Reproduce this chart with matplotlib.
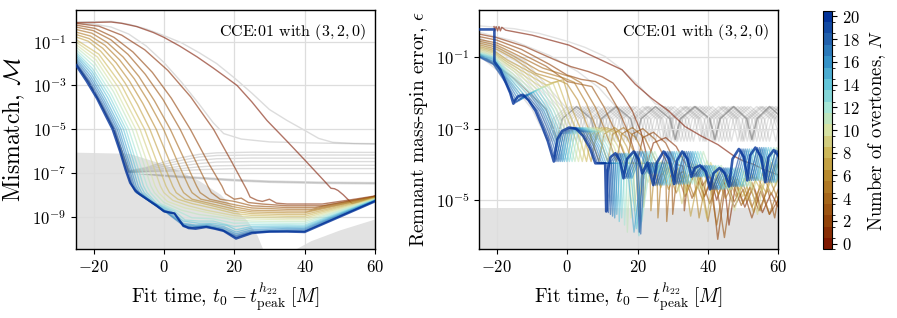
import numpy as np
import matplotlib
matplotlib.use("Agg")
import matplotlib.pyplot as plt
from matplotlib.colors import LinearSegmentedColormap, BoundaryNorm
from matplotlib.cm import ScalarMappable

plt.rcParams.update({
    "font.family": "serif",
    "font.serif": ["cmr10"],
    "mathtext.fontset": "cm",
    "axes.formatter.use_mathtext": True,
    "axes.unicode_minus": True,
})

# roma-like colour scale for overtone number
ROMA = ["#7e1800", "#924309", "#a5661a", "#b88a2e", "#cdb85a", "#d6e2a4",
        "#a6e6d6", "#63c6da", "#3592c8", "#2160ac", "#033399"]
cmap = LinearSegmentedColormap.from_list("roma", ROMA)

OVERTONES = list(range(21))

# ---------------- left panel: mismatch (t, log10 M) ----------------
MISMATCH = [
    [(-25,-0.13),(-20,-0.12),(-15,-0.1),(-12,-0.16),(-7.7,-0.31),(-3,-0.58),(0,-0.8),(4.5,-1.2),(9.4,-1.69),(14,-2.2),(17,-2.55),(20.8,-3.0),(25,-3.75),(29.3,-4.6),(35,-5.55),(40,-6.4),(45.5,-7.35),(47.5,-7.7),(48.5,-7.72),(49.5,-7.8),(51,-8.0),(53.5,-8.4),(56,-8.3),(60,-8.05)],
    [(-25,-0.16),(-18.5,-0.29),(-12,-0.7),(-5.45,-1.37),(1.1,-2.31),(7.6,-3.52),(14.1,-5.0),(19.3,-6.5),(23.5,-7.75),(24.5,-8.1),(26.5,-8.25),(28,-8.3),(30,-8.2),(32,-8.38),(35,-8.42),(45,-8.42),(50,-8.3),(55,-8.18),(60,-8.05)],
    [(-25,-0.24),(-19.6,-0.39),(-14.2,-0.8),(-8.8,-1.47),(-3.3,-2.4),(2.1,-3.58),(7.5,-5.0),(12.5,-6.5),(16.5,-7.6),(17.5,-7.95),(20,-8.2),(22,-8.15),(24,-8.35),(28,-8.42),(35,-8.5),(45,-8.5),(60,-8.07)],
    [(-25,-0.33),(-20.1,-0.49),(-15.1,-0.91),(-10.2,-1.58),(-5.3,-2.49),(-0.3,-3.63),(4.6,-5.0),(9,-6.45),(12.5,-7.6),(13.5,-7.9),(16,-8.2),(20,-8.3),(25,-8.5),(35,-8.58),(43,-8.58),(60,-8.08)],
    [(-25,-0.44),(-20.5,-0.61),(-16.1,-1.04),(-11.6,-1.7),(-7.1,-2.59),(-2.7,-3.7),(1.8,-5.0),(6,-6.45),(9.3,-7.6),(10.3,-7.9),(13,-8.2),(20,-8.45),(25,-8.6),(35,-8.66),(42,-8.66),(60,-8.1)],
    [(-25,-0.56),(-20.9,-0.74),(-16.7,-1.17),(-12.6,-1.83),(-8.4,-2.7),(-4.3,-3.76),(-0.1,-5.0),(3.9,-6.5),(7,-7.6),(8,-7.9),(10.5,-8.2),(15,-8.35),(20,-8.55),(25,-8.7),(35,-8.74),(41,-8.74),(60,-8.11)],
    [(-25,-0.67),(-21.2,-0.86),(-17.4,-1.3),(-13.6,-1.96),(-9.8,-2.8),(-6,-3.82),(-2.2,-5.0),(1.7,-6.5),(4.6,-7.6),(5.6,-7.9),(8,-8.2),(12,-8.35),(20,-8.65),(25,-8.78),(35,-8.82),(40,-8.82),(60,-8.12)],
    [(-25,-0.78),(-21.5,-0.98),(-18,-1.43),(-14.5,-2.08),(-11,-2.9),(-7.5,-3.87),(-4,-5.0),(-0.3,-6.5),(2.5,-7.6),(3.5,-7.9),(6,-8.2),(10,-8.35),(15,-8.55),(20,-8.75),(25,-8.86),(35,-8.9),(40,-8.9),(60,-8.14)],
    [(-25,-0.9),(-18.5,-1.57),(-12,-3.0),(-5.5,-5.0),(-2,-6.5),(0.6,-7.6),(1.6,-7.9),(4,-8.2),(8,-8.4),(15,-8.65),(20,-8.85),(25,-8.94),(35,-8.98),(40,-8.98),(60,-8.15)],
    [(-25,-1.01),(-18.9,-1.7),(-12.9,-3.1),(-6.8,-5.0),(-3.4,-6.5),(-1,-7.6),(0,-7.9),(2.5,-8.25),(7,-8.5),(12,-8.7),(20,-8.95),(25,-9.02),(35,-9.06),(40,-9.06),(60,-8.17)],
    [(-25,-1.13),(-19.3,-1.83),(-13.7,-3.19),(-8,-5.0),(-4.8,-6.5),(-2.5,-7.6),(-1.5,-7.9),(1,-8.3),(6,-8.6),(12,-8.8),(20,-9.05),(25,-9.1),(35,-9.14),(40,-9.14),(60,-8.18)],
    [(-25,-1.24),(-19.7,-1.96),(-14.3,-3.29),(-9,-5.0),(-5.9,-6.5),(-3.7,-7.6),(-2.7,-7.9),(0,-8.35),(5,-8.7),(10,-8.9),(15,-9.0),(20,-9.15),(25,-9.2),(35,-9.22),(40,-9.22),(60,-8.2)],
    [(-25,-1.36),(-20,-2.1),(-15,-3.38),(-10,-5.0),(-7,-6.5),(-4.8,-7.6),(-3.8,-7.9),(-1,-8.4),(4,-8.75),(8,-9.05),(14,-9.1),(20,-9.3),(25,-9.28),(35,-9.3),(40,-9.3),(60,-8.21)],
    [(-25,-1.47),(-20.3,-2.23),(-15.5,-3.47),(-10.8,-5.0),(-7.9,-6.5),(-5.8,-7.6),(-4.8,-7.9),(-2,-8.4),(3,-8.75),(6,-9.15),(10,-9.2),(14,-9.2),(20,-9.45),(25,-9.37),(35,-9.37),(40,-9.38),(60,-8.23)],
    [(-25,-1.56),(-20.5,-2.34),(-16,-3.55),(-11.5,-5.0),(-8.6,-6.5),(-6.6,-7.6),(-5.6,-7.9),(-2.5,-8.4),(2,-8.75),(5.5,-9.2),(10,-9.3),(14,-9.3),(18,-9.4),(20.5,-9.6),(25,-9.45),(35,-9.43),(40,-9.44),(60,-8.24)],
    [(-25,-1.65),(-20.7,-2.45),(-16.5,-3.63),(-12.2,-5.0),(-9.3,-6.5),(-7.3,-7.6),(-6.3,-7.9),(-3,-8.4),(1,-8.75),(5.5,-9.3),(9,-9.38),(13,-9.35),(17,-9.45),(20.5,-9.7),(25,-9.52),(35,-9.49),(40,-9.5),(60,-8.25)],
    [(-25,-1.75),(-20.9,-2.56),(-16.9,-3.69),(-12.8,-5.0),(-9.9,-6.5),(-7.9,-7.6),(-6.9,-7.9),(-3.5,-8.35),(0.5,-8.75),(5.5,-9.35),(9,-9.43),(12.5,-9.4),(17,-9.52),(20.5,-9.78),(25,-9.6),(35,-9.54),(40,-9.55),(60,-8.26)],
    [(-25,-1.84),(-21.1,-2.66),(-17.2,-3.76),(-13.3,-5.0),(-10.4,-6.5),(-8.4,-7.6),(-7.4,-7.9),(-4,-8.3),(0.3,-8.76),(5.5,-9.4),(8,-9.47),(12.3,-9.43),(16.5,-9.56),(20.5,-9.85),(25,-9.66),(35,-9.6),(40,-9.6),(60,-8.27)],
    [(-25,-1.93),(-21.3,-2.75),(-17.5,-3.82),(-13.8,-5.0),(-10.9,-6.5),(-8.8,-7.6),(-7.8,-7.9),(-4.5,-8.25),(0.2,-8.77),(3,-8.85),(5.5,-9.42),(8,-9.5),(12.2,-9.45),(16.5,-9.6),(20.5,-9.9),(25,-9.7),(35,-9.64),(40,-9.65),(60,-8.28)],
    [(-25,-2.0),(-21.4,-2.83),(-17.8,-3.87),(-14.2,-5.0),(-11.4,-6.5),(-9.2,-7.55),(-8.2,-7.85),(-5,-8.2),(0.1,-8.77),(3,-8.85),(5.5,-9.45),(7.5,-9.52),(12.1,-9.46),(16.6,-9.62),(20.5,-9.95),(25,-9.72),(35,-9.67),(40,-9.68),(60,-8.29)],
    [(-25,-2.07),(-22,-2.8),(-19,-3.6),(-16.5,-4.4),(-14.6,-5.0),(-12.5,-6.0),(-10.8,-6.9),(-9.6,-7.45),(-8.2,-7.78),(-7,-7.95),(-5,-8.17),(-2.2,-8.47),(0,-8.75),(3,-8.85),(5.5,-9.4),(7,-9.52),(9,-9.55),(12,-9.47),(14.5,-9.55),(17,-9.65),(20.5,-10.0),(25,-9.75),(30,-9.68),(35,-9.68),(40,-9.7),(45,-9.35),(50,-9.0),(55,-8.65),(60,-8.3)],
]

# grey reference curves, left panel
GREY_LEFT = [
    [(-25,-0.1),(-15,-0.07),(-10,-0.2),(-5,-0.42),(0,-0.72),(5,-1.05),(10,-1.5),(15,-2.0),(20,-2.65),(25,-3.35),(30,-4.1),(35,-4.6),(40,-5.05),(44,-5.42),(48,-5.6),(54,-5.65),(60,-5.66)],
    [(-25,-0.15),(-20,-0.19),(-15,-0.33),(-10,-0.65),(-5,-1.2),(0,-1.95),(5,-2.85),(10,-3.85),(14,-4.7),(17,-5.2),(22,-5.45),(30,-5.58),(40,-5.62),(60,-5.68)],
    [(-25,-2.0),(-21.4,-2.83),(-17.8,-3.87),(-14.2,-5.0),(-12,-6.0),(-10,-6.9),(-5,-6.75),(0,-6.5),(5,-6.3),(10,-6.15),(15,-6.08),(25,-6.05),(60,-6.06)],
    [(-25,-2.0),(-21.4,-2.83),(-17.8,-3.87),(-14.2,-5.0),(-12,-6.0),(-10,-6.92),(-5,-6.8),(0,-6.6),(5,-6.42),(10,-6.27),(15,-6.2),(25,-6.18),(60,-6.18)],
    [(-25,-2.0),(-21.4,-2.83),(-17.8,-3.87),(-14.2,-5.0),(-12,-6.0),(-10,-6.93),(-5,-6.85),(0,-6.7),(5,-6.55),(10,-6.42),(15,-6.35),(25,-6.32),(60,-6.33)],
    [(-25,-2.0),(-21.4,-2.83),(-17.8,-3.87),(-14.2,-5.0),(-12,-6.0),(-10,-6.94),(-5,-6.9),(0,-6.8),(5,-6.68),(10,-6.57),(15,-6.5),(25,-6.48),(60,-6.48)],
    [(-25,-2.0),(-21.4,-2.83),(-17.8,-3.87),(-14.2,-5.0),(-12,-6.0),(-10,-6.95),(-5,-6.93),(0,-6.88),(5,-6.8),(10,-6.72),(15,-6.67),(25,-6.65),(60,-6.65)],
    [(-25,-2.0),(-21.4,-2.83),(-17.8,-3.87),(-14.2,-5.0),(-12,-6.0),(-10,-6.96),(0,-6.93),(10,-6.85),(20,-6.8),(60,-6.8)],
    [(-25,-2.0),(-21.4,-2.83),(-17.8,-3.87),(-14.2,-5.0),(-12,-6.0),(-10,-6.97),(-5,-7.05),(0,-7.12),(5,-7.18),(10,-7.23),(15,-7.28),(20,-7.33),(30,-7.4),(45,-7.45),(60,-7.47)],
    [(-25,-2.0),(-21.4,-2.83),(-17.8,-3.87),(-14.2,-5.0),(-12,-6.0),(-10,-6.98),(-5,-7.07),(0,-7.15),(5,-7.21),(10,-7.26),(15,-7.31),(20,-7.36),(30,-7.43),(45,-7.48),(60,-7.5)],
    [(-25,-2.0),(-21.4,-2.83),(-17.8,-3.87),(-14.2,-5.0),(-12,-6.0),(-10,-6.99),(-5,-7.03),(0,-7.1),(5,-7.15),(10,-7.2),(15,-7.25),(20,-7.3),(30,-7.37),(45,-7.42),(60,-7.44)],
]

# shaded noise floor, left panel
FLOOR_LEFT_T = [-25, -10, -5, 0, 5, 10, 16, 20, 23.6, 26.5, 28.4, 36, 41.7, 50, 60]
FLOOR_LEFT_V = [-6.05, -6.1, -6.35, -6.6, -6.95, -7.35, -7.97, -8.62, -9.16, -9.85, -10.6, -10.6, -10.1, -9.6, -9.1]

# ---------------- right panel: remnant error (t, log10 eps) ----------------
EPSILON = [
    [(-20.8,-0.14),(-20.6,-0.26),(-20.2,-0.14),(-19.8,-0.26),(-19.4,-0.14),(-19.0,-0.26),(-18.6,-0.16),(-17.5,-0.24),(-10,-0.38),(0.5,-0.66),(8,-1.0),(15.6,-1.35),(19.3,-1.75),(24,-2.15),(28.8,-2.5),(33.5,-2.94),(38,-3.2),(42.9,-3.45),(47.6,-3.78),(50,-3.9),(53,-4.0),(56,-4.15),(60,-4.3)],
    [(-25,-0.35),(-20,-0.45),(-12,-0.7),(-4,-1.05),(1,-1.26),(6,-1.4),(10,-1.55),(13,-1.72),(16,-2.1),(18.5,-2.5),(21,-3.1),(23,-3.92),(24.5,-3.4),(28,-3.25),(31,-3.5),(34,-4.05),(36,-4.1),(38.5,-4.6),(40.5,-4.3),(42.5,-5.0),(44.5,-4.4),(46,-5.7),(48,-4.5),(50.5,-5.2),(53,-4.6),(55.5,-5.35),(58,-4.8),(60,-5.2)],
    [(-25,-0.42),(-20,-0.52),(-13,-0.78),(-5,-1.2),(0,-1.5),(4,-1.62),(8,-1.68),(11,-1.85),(14.5,-2.45),(17.5,-3.15),(20,-3.92),(21.5,-3.25),(24.5,-3.1),(28,-3.4),(31,-4.0),(33,-4.05),(33.3,-5.3),(34.5,-4.3),(36.5,-4.25),(39,-4.9),(41,-4.45),(42.8,-6.1),(45,-4.55),(47.5,-5.2),(50,-4.7),(52.5,-5.5),(55,-4.75),(57.5,-5.4),(60,-5.0)],
    [(-25,-0.5),(-20,-0.6),(-14,-0.85),(-6,-1.25),(0,-1.68),(3.5,-1.75),(7,-1.82),(10.5,-2.4),(14,-3.15),(17,-3.92),(18.5,-3.15),(21.5,-3.0),(25,-3.3),(28.5,-3.97),(29.7,-3.97),(30,-5.4),(31.2,-4.3),(33,-4.2),(35.5,-4.95),(38,-4.35),(40.5,-5.1),(42.5,-4.6),(44.7,-6.05),(47,-4.5),(49.5,-5.15),(52,-4.65),(54.5,-5.3),(57,-4.7),(59,-5.5),(60,-4.9)],
    [(-25,-0.55),(-20,-0.66),(-15,-0.9),(-7,-1.3),(1,-1.55),(4,-1.72),(8,-2.4),(11,-3.1),(14,-3.92),(15.5,-3.15),(18.5,-2.97),(22,-3.25),(25.5,-3.97),(28,-3.97),(28.3,-5.6),(29.3,-4.35),(31,-4.15),(33.5,-4.9),(36,-4.3),(38.5,-5.0),(40.5,-4.5),(42.5,-5.7),(45,-4.4),(47.5,-5.05),(50,-4.55),(52.5,-5.2),(55,-4.6),(57.5,-5.4),(60,-4.7)],
    [(-25,-0.6),(-20,-0.72),(-15,-0.98),(-8,-1.38),(-1,-1.58),(2,-1.7),(5.5,-2.3),(8.5,-3.05),(11.5,-3.92),(13,-3.15),(16,-2.97),(19.5,-3.25),(23,-3.97),(25.5,-3.97),(25.8,-5.5),(26.8,-4.3),(28.5,-4.1),(31,-4.8),(33.5,-4.2),(36,-4.9),(38,-4.4),(40,-5.6),(42.5,-4.3),(45,-4.95),(47.5,-4.45),(50,-5.1),(52.5,-4.5),(55,-5.3),(57.5,-4.4),(60,-5.0)],
    [(-25,-0.65),(-20,-0.78),(-15,-1.05),(-9,-1.45),(-3,-1.62),(0,-1.75),(3,-2.2),(6,-3.0),(9,-3.92),(10.5,-3.15),(13.5,-2.97),(17,-3.25),(20.5,-3.97),(23.5,-3.97),(23.8,-5.3),(24.8,-4.2),(26.5,-4.0),(28.8,-4.7),(31.5,-4.1),(34,-4.75),(36,-4.3),(37.5,-5.5),(40,-4.2),(43,-4.85),(45.5,-4.3),(48,-4.9),(50.5,-4.4),(53,-5.35),(55.5,-4.25),(58,-4.85),(60,-4.4)],
    [(-25,-0.7),(-21,-0.8),(-17,-1.08),(-4.6,-1.72),(-1.1,-1.63),(1.6,-2.5),(3.5,-2.94),(5.1,-3.35),(6.8,-3.92),(8.3,-3.15),(11.1,-2.97),(14.6,-3.1),(16.9,-3.5),(18.6,-3.97),(21.4,-3.97),(21.7,-5.2),(22.6,-4.2),(24.3,-4.0),(26.6,-4.65),(29.5,-4.0),(31.9,-4.6),(33.4,-4.3),(35.1,-5.45),(38,-4.05),(41,-4.75),(43.3,-4.1),(45.9,-4.7),(48.4,-4.4),(51.2,-5.0),(53.9,-4.35),(56.6,-4.8),(59.4,-4.0),(60,-4.1)],
    [(-25,-0.74),(-21,-0.84),(-17,-1.14),(-6,-1.78),(-2.7,-1.68),(0.3,-2.5),(2.2,-2.94),(3.8,-3.35),(5.5,-3.92),(7,-3.15),(9.8,-2.97),(13.3,-3.1),(15.6,-3.5),(17.3,-3.97),(20.1,-3.97),(20.4,-5.45),(21.3,-4.15),(23,-3.95),(25.3,-4.6),(28.2,-3.95),(30.6,-4.5),(32.1,-4.25),(33.8,-4.8),(36.7,-4.0),(39.7,-5.5),(42,-4.05),(44.6,-4.65),(47.1,-4.35),(49.9,-4.9),(52.6,-4.3),(55.3,-4.75),(58.1,-3.95),(60,-4.4)],
    [(-25,-0.78),(-21,-0.88),(-17,-1.2),(-7.3,-1.84),(-4,-1.73),(-0.9,-2.5),(1,-2.94),(2.6,-3.35),(4.3,-3.92),(5.8,-3.15),(8.6,-2.97),(12.1,-3.1),(14.4,-3.5),(16.1,-3.97),(18.9,-3.97),(19.2,-5.3),(20.1,-4.1),(21.8,-3.85),(24.1,-4.55),(27,-3.9),(29.4,-4.45),(30.9,-4.2),(32.6,-5.1),(35.5,-3.95),(38.5,-4.7),(40.8,-3.95),(43.4,-4.6),(45.9,-4.3),(48.7,-4.8),(51.4,-4.25),(54.1,-5.4),(56.9,-3.85),(59.3,-4.6),(60,-4.3)],
    [(-25,-0.82),(-21,-0.92),(-17,-1.25),(-8.4,-1.9),(-5.2,-1.78),(-2,-2.5),(-0.1,-2.94),(1.5,-3.35),(3.2,-3.92),(4.7,-3.15),(7.5,-2.97),(11,-3.1),(13.3,-3.5),(15,-3.97),(17.8,-3.97),(18.1,-5.5),(19,-4.1),(20.7,-3.85),(23,-4.5),(25.9,-3.85),(28.3,-4.4),(29.8,-4.15),(31.5,-4.75),(34.4,-3.9),(37.4,-4.7),(39.7,-3.9),(42.3,-4.55),(44.8,-4.25),(47.6,-5.3),(50.3,-4.2),(53,-4.7),(55.8,-3.8),(58.2,-4.6),(60,-3.9)],
    [(-25,-0.85),(-21,-0.95),(-17.5,-1.3),(-9.4,-1.95),(-6.3,-1.82),(-3,-2.5),(-1.1,-2.94),(0.5,-3.35),(2.2,-3.92),(3.7,-3.15),(6.5,-2.97),(10,-3.1),(12.3,-3.5),(14,-3.97),(16.8,-3.97),(17.1,-5.9),(18,-3.9),(19.7,-3.69),(22,-4.39),(24.9,-3.64),(27.3,-4.25),(28.8,-3.95),(30.5,-4.58),(33.4,-3.64),(36.4,-4.55),(38.7,-3.64),(41.3,-4.35),(43.8,-4.03),(46.6,-4.7),(49.3,-4.1),(52,-4.62),(54.8,-3.57),(57.2,-4.45),(59.5,-3.53),(60,-3.6)],
    [(-25,-0.88),(-21,-0.98),(-17.5,-1.35),(-10.3,-2.0),(-7.3,-1.86),(-3.8,-2.5),(-1.9,-2.94),(-0.3,-3.35),(1.4,-3.92),(2.9,-3.15),(5.7,-2.97),(9.2,-3.1),(11.5,-3.5),(13.2,-3.97),(16,-3.97),(16.3,-5.7),(17.2,-3.9),(18.9,-3.69),(21.2,-5.6),(24.1,-3.64),(26.5,-4.25),(28,-3.95),(29.7,-4.58),(32.6,-3.64),(35.6,-4.55),(37.9,-3.64),(40.5,-4.35),(43,-4.03),(45.8,-4.7),(48.5,-4.1),(51.2,-4.62),(54,-3.57),(56.4,-4.45),(58.7,-3.53),(60,-3.7)],
    [(-25,-0.9),(-21,-1.0),(-17.5,-1.4),(-11.1,-2.05),(-8.2,-1.9),(-4.6,-2.5),(-2.7,-2.94),(-1.1,-3.35),(0.6,-3.92),(2.1,-3.15),(4.9,-2.97),(8.4,-3.1),(10.7,-3.5),(12.4,-3.97),(15.2,-3.97),(15.5,-5.5),(16.4,-3.9),(18.1,-3.69),(20.4,-6.0),(23.3,-3.64),(25.7,-4.25),(27.2,-3.95),(28.9,-4.58),(31.8,-3.64),(34.8,-4.55),(37.1,-3.64),(39.7,-4.35),(42.2,-4.03),(45,-4.7),(47.7,-4.1),(50.4,-4.62),(53.2,-3.57),(55.6,-4.45),(57.9,-3.53),(60,-4.2)],
    [(-25,-0.92),(-21,-1.03),(-17.5,-1.45),(-11.8,-2.1),(-9,-1.94),(-5.3,-2.5),(-3.4,-2.94),(-1.8,-3.35),(-0.1,-3.92),(1.4,-3.15),(4.2,-2.97),(7.7,-3.1),(10,-3.5),(11.7,-3.97),(14.5,-3.97),(14.8,-5.6),(15.7,-3.9),(17.4,-3.69),(19.7,-5.8),(22.6,-3.64),(25,-4.25),(26.5,-3.95),(28.2,-4.58),(31.1,-3.64),(34.1,-4.55),(36.4,-3.64),(39,-4.35),(41.5,-4.03),(44.3,-4.7),(47,-4.1),(49.7,-4.62),(52.5,-3.57),(54.9,-4.45),(57.2,-3.53),(60,-4.45)],
    [(-25,-0.94),(-21,-1.06),(-17.5,-1.5),(-12.5,-2.14),(-9.7,-1.97),(-6,-2.5),(-4.1,-2.94),(-2.5,-3.35),(-0.8,-3.92),(0.7,-3.15),(3.5,-2.97),(7,-3.1),(9.3,-3.5),(11,-3.97),(13.8,-3.97),(14.1,-5.4),(15,-3.9),(16.7,-3.69),(19,-5.9),(21.9,-3.64),(24.3,-4.25),(25.8,-3.95),(27.5,-4.58),(30.4,-3.64),(33.4,-4.55),(35.7,-3.64),(38.3,-4.35),(40.8,-4.03),(43.6,-4.7),(46.3,-4.1),(49,-4.62),(51.8,-3.57),(54.2,-4.45),(56.5,-3.53),(59.3,-4.5),(60,-4.2)],
    [(-25,-0.96),(-21,-1.1),(-17.5,-1.55),(-13.1,-2.18),(-10.3,-2.0),(-6.6,-2.5),(-4.7,-2.94),(-3.1,-3.35),(-1.4,-3.92),(0.1,-3.15),(2.9,-2.97),(6.4,-3.1),(8.7,-3.5),(10.4,-3.97),(13.2,-3.97),(13.5,-5.5),(14.4,-3.9),(16.1,-3.69),(18.4,-4.39),(21.3,-3.64),(23.7,-4.25),(25.2,-3.95),(26.9,-4.58),(29.8,-3.64),(32.8,-4.55),(35.1,-3.64),(37.7,-4.35),(40.2,-4.03),(43,-4.7),(45.7,-4.1),(48.4,-4.62),(51.2,-3.57),(53.6,-4.45),(55.9,-3.53),(58.7,-4.5),(60,-3.9)],
    [(-25,-0.97),(-21,-1.13),(-17.5,-1.6),(-13.7,-2.22),(-10.9,-2.02),(-7.2,-2.5),(-5.3,-2.94),(-3.7,-3.35),(-2,-3.92),(-0.5,-3.15),(2.3,-2.97),(5.8,-3.1),(8.1,-3.5),(9.8,-3.97),(12.6,-3.97),(12.9,-5.45),(13.8,-3.9),(15.5,-3.69),(17.8,-4.39),(20.7,-3.64),(23.1,-4.25),(24.6,-3.95),(26.3,-4.58),(29.2,-3.64),(32.2,-4.55),(34.5,-3.64),(37.1,-4.35),(39.6,-4.03),(42.4,-4.7),(45.1,-4.1),(47.8,-4.62),(50.6,-3.57),(53,-4.45),(55.3,-3.53),(58.1,-4.5),(60,-3.7)],
    [(-25,-0.98),(-21,-1.17),(-17.5,-1.66),(-14.3,-2.25),(-11.6,-2.04),(-7.8,-2.5),(-5.9,-2.94),(-4.3,-3.35),(-2.6,-3.92),(-1.1,-3.15),(1.7,-2.97),(5.2,-3.1),(7.5,-3.5),(9.2,-3.97),(12,-3.97),(12.3,-5.4),(13.2,-3.9),(14.9,-3.69),(17.2,-4.39),(20.1,-3.64),(20.9,-5.95),(21.8,-4.3),(24,-3.95),(25.7,-4.58),(28.6,-3.64),(31.6,-4.55),(33.9,-3.64),(36.5,-4.35),(39,-4.03),(41.8,-4.7),(44.5,-4.1),(47.2,-4.62),(50,-3.57),(52.4,-4.45),(54.7,-3.53),(57.5,-4.5),(60,-3.62)],
    [(-25,-1.0),(-21,-1.2),(-17.5,-1.72),(-14.8,-2.28),(-12.2,-2.06),(-8.4,-2.5),(-6.5,-2.94),(-4.9,-3.35),(-3.2,-3.92),(-1.7,-3.15),(1.1,-2.97),(4.6,-3.1),(6.9,-3.5),(8.6,-3.97),(11.4,-3.97),(11.7,-5.35),(12.6,-3.9),(14.3,-3.69),(16.6,-4.39),(19.5,-3.64),(20.5,-5.9),(21.3,-4.3),(23.4,-3.95),(25.1,-4.58),(28,-3.64),(31,-4.55),(33.3,-3.64),(35.9,-4.35),(38.4,-4.03),(41.2,-4.7),(43.9,-4.1),(46.6,-4.62),(49.4,-3.57),(51.8,-4.45),(54.1,-3.53),(56.9,-4.5),(59.3,-3.6),(60,-3.65)],
    [(-25,-0.22),(-20.7,-0.22),(-20.7,-1.12),(-19,-1.35),(-17.5,-1.7),(-16.2,-2.0),(-15.3,-2.3),(-14.8,-2.2),(-14,-2.1),(-12.7,-2.05),(-11,-2.2),(-9,-2.5),(-7.1,-2.94),(-5.5,-3.35),(-3.8,-3.92),(-2.8,-3.3),(-1.5,-3.07),(0.5,-2.97),(2.5,-3.0),(4.5,-3.2),(6.5,-3.55),(8,-3.97),(10.8,-3.97),(11.1,-5.32),(11.5,-4.2),(12.3,-3.8),(13.7,-3.69),(15,-3.9),(16,-4.39),(17,-3.85),(18.9,-3.64),(20.3,-3.85),(21.3,-4.25),(22.8,-3.95),(24.5,-4.58),(25.5,-3.95),(27.4,-3.64),(29,-3.85),(30.4,-4.55),(31.2,-3.9),(32.7,-3.64),(34.2,-3.85),(35.3,-4.35),(36.3,-4.1),(37.8,-4.03),(39.4,-4.2),(40.6,-4.7),(41.6,-4.25),(43.3,-4.1),(44.8,-4.25),(46,-4.62),(47,-3.85),(48.8,-3.57),(50.3,-3.8),(51.2,-4.45),(52,-3.75),(53.5,-3.53),(55.2,-3.8),(56.3,-4.5),(57.2,-3.8),(58.7,-3.6),(60,-3.75)],
]

# grey reference curves, right panel (oscillating band)
GREY_RIGHT = [
    [(-25,-0.12),(-15,-0.2),(-8,-0.33),(0,-0.55),(5,-0.72),(10.8,-0.98),(15,-1.3),(20,-1.75),(25,-2.3),(28,-2.4),(29.5,-2.72),(31,-3.35),(32.5,-2.72),(36.4,-2.38),(40.3,-2.72),(41.8,-3.35),(43.3,-2.72),(47.2,-2.38),(51.1,-2.72),(52.6,-3.35),(54.1,-2.72),(58,-2.38),(60,-2.5)],
    [(-25,-0.3),(-15,-0.55),(-5,-0.95),(3,-1.4),(9,-1.85),(14,-2.4),(17.5,-3.35),(19,-2.72),(22.9,-2.38),(26.8,-2.72),(28.3,-3.35),(29.8,-2.72),(33.7,-2.38),(37.6,-2.72),(39.1,-3.35),(40.6,-2.72),(44.5,-2.38),(48.4,-2.72),(49.9,-3.35),(51.4,-2.72),(55.3,-2.38),(59.2,-2.72),(60,-2.9)],
    [(-25,-0.95),(-17,-1.6),(-10,-2.45),(-5.5,-3.35),(-4,-2.72),(-0.1,-2.38),(3.8,-2.72),(5.3,-3.35),(6.8,-2.72),(10.7,-2.38),(14.6,-2.72),(16.1,-3.35),(17.6,-2.72),(21.5,-2.38),(25.4,-2.72),(26.9,-3.35),(28.4,-2.72),(32.3,-2.38),(36.2,-2.72),(37.7,-3.35),(39.2,-2.72),(43.1,-2.38),(47,-2.72),(48.5,-3.35),(50,-2.72),(53.9,-2.38),(57.8,-2.72),(59.3,-3.35),(60,-3.0)],
    [(-25,-0.9),(-16.5,-1.55),(-9,-2.45),(-4.6,-3.35),(-3.1,-2.72),(0.8,-2.38),(4.7,-2.72),(6.2,-3.35),(7.7,-2.72),(11.6,-2.38),(15.5,-2.72),(17,-3.35),(18.5,-2.72),(22.4,-2.38),(26.3,-2.72),(27.8,-3.35),(29.3,-2.72),(33.2,-2.38),(37.1,-2.72),(38.6,-3.35),(40.1,-2.72),(44,-2.38),(47.9,-2.72),(49.4,-3.35),(50.9,-2.72),(54.8,-2.38),(58.7,-2.72),(60,-3.1)],
    [(-25,-0.85),(-16,-1.5),(-8,-2.45),(-3.7,-3.35),(-2.2,-2.72),(1.7,-2.38),(5.6,-2.72),(7.1,-3.35),(8.6,-2.72),(12.5,-2.38),(16.4,-2.72),(17.9,-3.35),(19.4,-2.72),(23.3,-2.38),(27.2,-2.72),(28.7,-3.35),(30.2,-2.72),(34.1,-2.38),(38,-2.72),(39.5,-3.35),(41,-2.72),(44.9,-2.38),(48.8,-2.72),(50.3,-3.35),(51.8,-2.72),(55.7,-2.38),(59.6,-2.72),(60,-2.8)],
    [(-25,-0.8),(-15.5,-1.45),(-7,-2.45),(-2.8,-3.35),(-1.3,-2.72),(2.6,-2.38),(6.5,-2.72),(8,-3.35),(9.5,-2.72),(13.4,-2.38),(17.3,-2.72),(18.8,-3.35),(20.3,-2.72),(24.2,-2.38),(28.1,-2.72),(29.6,-3.35),(31.1,-2.72),(35,-2.38),(38.9,-2.72),(40.4,-3.35),(41.9,-2.72),(45.8,-2.38),(49.7,-2.72),(51.2,-3.35),(52.7,-2.72),(56.6,-2.38),(60,-2.7)],
    [(-25,-0.75),(-15,-1.4),(-6,-2.45),(-1.9,-3.35),(-0.4,-2.72),(3.5,-2.38),(7.4,-2.72),(8.9,-3.35),(10.4,-2.72),(14.3,-2.38),(18.2,-2.72),(19.7,-3.35),(21.2,-2.72),(25.1,-2.38),(29,-2.72),(30.5,-3.35),(32,-2.72),(35.9,-2.38),(39.8,-2.72),(41.3,-3.35),(42.8,-2.72),(46.7,-2.38),(50.6,-2.72),(52.1,-3.35),(53.6,-2.72),(57.5,-2.38),(60,-2.6)],
    [(-25,-0.7),(-14.5,-1.35),(-5,-2.45),(-1,-3.35),(0.5,-2.72),(4.4,-2.38),(8.3,-2.72),(9.8,-3.35),(11.3,-2.72),(15.2,-2.38),(19.1,-2.72),(20.6,-3.35),(22.1,-2.72),(26,-2.38),(29.9,-2.72),(31.4,-3.35),(32.9,-2.72),(36.8,-2.38),(40.7,-2.72),(42.2,-3.35),(43.7,-2.72),(47.6,-2.38),(51.5,-2.72),(53,-3.35),(54.5,-2.72),(58.4,-2.38),(60,-2.5)],
    [(-25,-0.65),(-14,-1.3),(-4,-2.45),(-0.1,-3.35),(1.4,-2.72),(5.3,-2.38),(9.2,-2.72),(10.7,-3.35),(12.2,-2.72),(16.1,-2.38),(20,-2.72),(21.5,-3.35),(23,-2.72),(26.9,-2.38),(30.8,-2.72),(32.3,-3.35),(33.8,-2.72),(37.7,-2.38),(41.6,-2.72),(43.1,-3.35),(44.6,-2.72),(48.5,-2.38),(52.4,-2.72),(53.9,-3.35),(55.4,-2.72),(59.3,-2.38),(60,-2.42)],
    [(-25,-0.6),(-13.5,-1.25),(-3,-2.45),(0.8,-3.35),(2.3,-2.72),(6.2,-2.38),(10.1,-2.72),(11.6,-3.35),(13.1,-2.72),(17,-2.38),(20.9,-2.72),(22.4,-3.35),(23.9,-2.72),(27.8,-2.38),(31.7,-2.72),(33.2,-3.35),(34.7,-2.72),(38.6,-2.38),(42.5,-2.72),(44,-3.35),(45.5,-2.72),(49.4,-2.38),(53.3,-2.72),(54.8,-3.35),(56.3,-2.72),(60,-2.4)],
    [(-25,-0.55),(-13,-1.2),(-2,-2.45),(1.7,-3.35),(3.2,-2.72),(7.1,-2.38),(11,-2.72),(12.5,-3.35),(14,-2.72),(17.9,-2.38),(21.8,-2.72),(23.3,-3.35),(24.8,-2.72),(28.7,-2.38),(32.6,-2.72),(34.1,-3.35),(35.6,-2.72),(39.5,-2.38),(43.4,-2.72),(44.9,-3.35),(46.4,-2.72),(50.3,-2.38),(54.2,-2.72),(55.7,-3.35),(57.2,-2.72),(60,-2.42)],
    [(-25,-0.5),(-12.5,-1.15),(-1,-2.45),(2.6,-3.35),(4.1,-2.72),(8,-2.38),(11.9,-2.72),(13.4,-3.35),(14.9,-2.72),(18.8,-2.38),(22.7,-2.72),(24.2,-3.35),(25.7,-2.72),(29.6,-2.38),(33.5,-2.72),(35,-3.35),(36.5,-2.72),(40.4,-2.38),(44.3,-2.72),(45.8,-3.35),(47.3,-2.72),(51.2,-2.38),(55.1,-2.72),(56.6,-3.35),(58.1,-2.72),(60,-2.5)],
    [(-25,-0.45),(-12,-1.1),(0,-2.45),(3.5,-3.35),(5,-2.72),(8.9,-2.38),(12.8,-2.72),(14.3,-3.35),(15.8,-2.72),(19.7,-2.38),(23.6,-2.72),(25.1,-3.35),(26.6,-2.72),(30.5,-2.38),(34.4,-2.72),(35.9,-3.35),(37.4,-2.72),(41.3,-2.38),(45.2,-2.72),(46.7,-3.35),(48.2,-2.72),(52.1,-2.38),(56,-2.72),(57.5,-3.35),(59,-2.72),(60,-2.6)],
]
GREY_RIGHT_DARK = [(-25,-0.9),(-15,-1.6),(-6,-2.45),(-2.9,-3.3),(-1.4,-2.72),(2.7,-2.38),(6.8,-2.72),(8.3,-3.3),(9.8,-2.72),(13.9,-2.38),(18,-2.72),(19.5,-3.3),(21,-2.72),(25.1,-2.38),(29.2,-2.72),(30.7,-3.3),(32.2,-2.72),(36.3,-2.38),(40.5,-2.72),(42,-3.3),(43.5,-2.72),(47.3,-2.38),(51,-2.72),(52.5,-3.3),(54,-2.72),(57.5,-2.38),(60,-2.6)]

FLOOR_RIGHT_T = [-25, 60]
FLOOR_RIGHT_V = [-5.23, -5.23]

TICKS_X = [-20, 0, 20, 40, 60]
TICKS_Y_LEFT = [-1, -3, -5, -7, -9]
TICKS_Y_RIGHT = [-1, -3, -5]
LABEL_TEXT = r"CCE:01 with $(3,2,0)$"


def draw(ax, pts, **kw):
    t, v = zip(*pts)
    ax.plot(t, np.power(10.0, v), **kw)


fig = plt.figure(figsize=(8.97, 3.18), dpi=100)
ax1 = fig.add_axes([0.0847, 0.216, 0.3333, 0.7526])
ax2 = fig.add_axes([0.5343, 0.216, 0.3333, 0.7526])
cax = fig.add_axes([0.9172, 0.216, 0.0107, 0.7503])

# shaded regions
ax1.fill_between(FLOOR_LEFT_T, np.power(10.0, FLOOR_LEFT_V), 1e-14,
                 color="#e2e2e2", lw=0, zorder=0.3)
ax2.fill_between(FLOOR_RIGHT_T, np.power(10.0, FLOOR_RIGHT_V), 1e-14,
                 color="#e2e2e2", lw=0, zorder=0.3)

# grey curves
for pts in GREY_LEFT:
    draw(ax1, pts, color="#8c8c8c", alpha=0.3, lw=1.0, zorder=1)
for pts in GREY_RIGHT:
    draw(ax2, pts, color="#8c8c8c", alpha=0.25, lw=1.0, zorder=1)
draw(ax2, GREY_RIGHT_DARK, color="#777777", alpha=0.55, lw=1.1, zorder=1)

# coloured curves
for n, pts in zip(OVERTONES, MISMATCH):
    if n == 20:
        draw(ax1, pts, color=cmap(1.0), alpha=0.8, lw=1.7, zorder=3)
    else:
        draw(ax1, pts, color=cmap(n / 20), alpha=0.6, lw=1.0, zorder=2)
for n, pts in zip(OVERTONES, EPSILON):
    if n == 20:
        draw(ax2, pts, color=cmap(1.0), alpha=0.8, lw=1.9, zorder=3)
    else:
        draw(ax2, pts, color=cmap(n / 20), alpha=0.6, lw=1.0, zorder=2)

for ax, yt, lims, ylabel, ysize in [
    (ax1, TICKS_Y_LEFT, (10 ** -10.49, 10 ** 0.45), r"Mismatch, $\mathcal{M}$", 17),
    (ax2, TICKS_Y_RIGHT, (10 ** -6.38, 10 ** 0.325), r"Remnant mass-spin error, $\epsilon$", 14),
]:
    ax.set_yscale("log")
    ax.set_xlim(-25, 60)
    ax.set_ylim(*lims)
    ax.set_xticks(TICKS_X)
    ax.set_yticks([10.0 ** k for k in yt])
    ax.set_yticklabels([rf"$10^{{{k}}}$" for k in yt])
    ax.yaxis.set_minor_locator(matplotlib.ticker.NullLocator())
    ax.grid(True, color="#dddddd", lw=0.9, zorder=0.5)
    ax.tick_params(labelsize=12, length=3.5, width=0.8)
    ax.set_xlabel(r"Fit time, $t_0 - t_{\rm peak}^{h_{22}}\;[M]$", fontsize=14)
    ax.set_ylabel(ylabel, fontsize=ysize)
    ax.text(0.97, 0.95, LABEL_TEXT, transform=ax.transAxes, ha="right", va="top",
            fontsize=11.5, zorder=5)
    for sp in ax.spines.values():
        sp.set_linewidth(1.0)

# discrete colour bar
bounds = np.arange(-0.5, 21.5, 1.0)
norm = BoundaryNorm(bounds, 21)
sm = ScalarMappable(norm=norm, cmap=cmap.resampled(21))
cb = fig.colorbar(sm, cax=cax, ticks=list(range(0, 21, 2)))
cb.set_label(r"Number of overtones, $N$", fontsize=13.5)
cb.ax.tick_params(labelsize=12, length=3.5, width=0.8)
cb.outline.set_linewidth(0.8)

fig.savefig("out.png", dpi=100)
